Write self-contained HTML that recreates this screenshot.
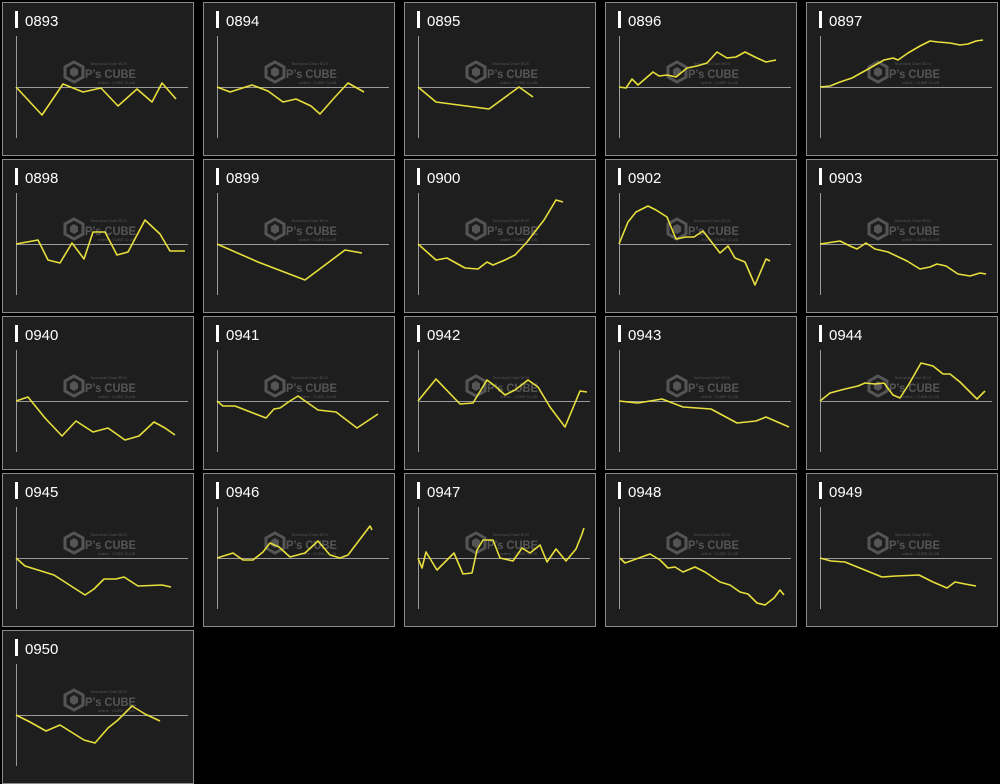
<!DOCTYPE html>
<html><head><meta charset="utf-8"><style>
html,body{margin:0;padding:0;background:#000;}
svg{display:block;}
text{font-family:"Liberation Sans","Noto Sans CJK JP",sans-serif;}
</style></head><body>
<svg width="1000" height="784" viewBox="0 0 1000 784" xmlns="http://www.w3.org/2000/svg">
<defs>
<g id="p">
<rect x="0.5" y="0.5" width="191" height="153" fill="#1e1e1e" stroke="#8a8a8a" stroke-width="1"/>
<rect x="13" y="9" width="3" height="17" fill="#fff"/>
<line x1="14.5" y1="34" x2="14.5" y2="136" stroke="#9a9a9a" stroke-width="1"/>
<line x1="14" y1="85.5" x2="186" y2="85.5" stroke="#9a9a9a" stroke-width="1"/>
<polygon points="72,60 81,65 81,75 72,80 63,75 63,65" fill="none" stroke="#555" stroke-width="3"/>
<polygon points="72,65 76,67.5 76,72.5 72,75 68,72.5 68,67.5" fill="#555"/>
<text x="83" y="76" font-size="12" font-weight="bold" fill="#555" textLength="51" lengthAdjust="spacingAndGlyphs">P’s CUBE</text>
<text x="88" y="63" font-size="4" fill="#555">Technical Chart BOX</text>
<text x="96" y="82" font-size="4" fill="#555">online · CUBE CLUB</text>
</g>
</defs>
<use href="#p" x="2" y="2"/><use href="#p" x="203" y="2"/><use href="#p" x="404" y="2"/><use href="#p" x="605" y="2"/><use href="#p" x="806" y="2"/>
<use href="#p" x="2" y="159"/><use href="#p" x="203" y="159"/><use href="#p" x="404" y="159"/><use href="#p" x="605" y="159"/><use href="#p" x="806" y="159"/>
<use href="#p" x="2" y="316"/><use href="#p" x="203" y="316"/><use href="#p" x="404" y="316"/><use href="#p" x="605" y="316"/><use href="#p" x="806" y="316"/>
<use href="#p" x="2" y="473"/><use href="#p" x="203" y="473"/><use href="#p" x="404" y="473"/><use href="#p" x="605" y="473"/><use href="#p" x="806" y="473"/>
<use href="#p" x="2" y="630"/>
<g font-size="15" fill="#fff">
<text x="25" y="26">0893</text><text x="226" y="26">0894</text><text x="427" y="26">0895</text><text x="628" y="26">0896</text><text x="829" y="26">0897</text>
<text x="25" y="183">0898</text><text x="226" y="183">0899</text><text x="427" y="183">0900</text><text x="628" y="183">0902</text><text x="829" y="183">0903</text>
<text x="25" y="340">0940</text><text x="226" y="340">0941</text><text x="427" y="340">0942</text><text x="628" y="340">0943</text><text x="829" y="340">0944</text>
<text x="25" y="497">0945</text><text x="226" y="497">0946</text><text x="427" y="497">0947</text><text x="628" y="497">0948</text><text x="829" y="497">0949</text>
<text x="25" y="654">0950</text>
</g>
<g fill="none" stroke="#e8df3c" stroke-width="1.6" stroke-linejoin="round">
<polyline points="16,87 42,115 63,84 83,92 101,88 118,106 137,89 152,102 162,83 176,99"/>
<polyline points="217,87 230,92 252,85 268,91 283,102 296,99 311,106 320,114 335,97 348,83 364,92"/>
<polyline points="418,87 436,102 489,109 519,87 533,97"/>
<polyline points="619,87 626,88 632,79 638,85 653,72 659,76 667,75 676,77 687,68 697,66 707,63 717,52 727,58 736,57 745,52 757,58 766,62 776,60"/>
<polyline points="820,87 830,86 840,82 852,78 870,68 884,60 893,58 898,60 908,53 920,46 930,41 938,42 950,43 960,45 968,44 976,41 983,40"/>
<polyline points="16,244 38,240 48,260 60,263 72,243 84,259 93,232 105,232 117,255 128,252 145,220 160,234 170,251 185,251"/>
<polyline points="217,244 258,262 305,280 345,250 362,253"/>
<polyline points="418,244 436,260 447,258 465,268 478,269 487,262 493,265 505,260 515,255 527,242 544,220 556,200 563,202"/>
<polyline points="619,244 628,222 636,212 648,206 656,210 667,217 676,239 686,237 694,237 703,231 710,240 720,253 728,246 735,258 745,262 755,285 766,259 770,261"/>
<polyline points="820,244 840,241 850,246 857,249 866,243 875,249 888,252 907,261 920,269 930,267 937,264 946,266 958,274 970,276 980,273 986,274"/>
<polyline points="16,401 28,397 45,418 62,436 76,421 93,432 108,428 125,440 139,436 154,422 165,428 175,435"/>
<polyline points="217,401 223,406 235,406 266,418 274,409 280,408 290,401 298,396 318,410 336,412 357,428 378,414"/>
<polyline points="418,401 436,379 460,404 473,403 487,380 495,386 505,395 515,390 528,380 538,387 550,407 565,427 580,391 587,392"/>
<polyline points="619,401 638,403 662,399 683,407 711,409 724,416 737,423 756,421 766,417 789,427"/>
<polyline points="820,401 830,393 845,389 858,386 865,383 875,384 884,383 893,395 900,398 909,384 921,363 933,366 943,374 950,374 960,382 977,399 985,391"/>
<polyline points="16,558 25,566 54,575 85,595 94,589 104,579 116,579 124,577 138,586 162,585 171,587"/>
<polyline points="217,558 233,553 243,560 253,560 263,552 270,543 279,547 290,557 305,553 318,541 330,555 340,558 348,555 370,526 372,530"/>
<polyline points="418,558 422,568 426,552 437,570 454,553 463,574 472,573 477,550 483,540 493,540 500,558 513,561 522,548 530,553 540,545 547,562 556,549 566,561 576,549 582,534 584,528"/>
<polyline points="620,558 625,563 650,554 660,560 668,568 675,567 683,572 695,567 705,572 720,582 730,585 740,592 748,594 757,603 765,605 774,598 780,590 784,595"/>
<polyline points="820,558 831,561 845,562 882,577 896,576 919,575 933,582 947,588 955,582 965,584 976,586"/>
<polyline points="16,715 30,722 46,731 60,725 84,740 95,743 108,728 118,720 132,706 145,714 160,721"/>
</g>
</svg>
</body></html>
